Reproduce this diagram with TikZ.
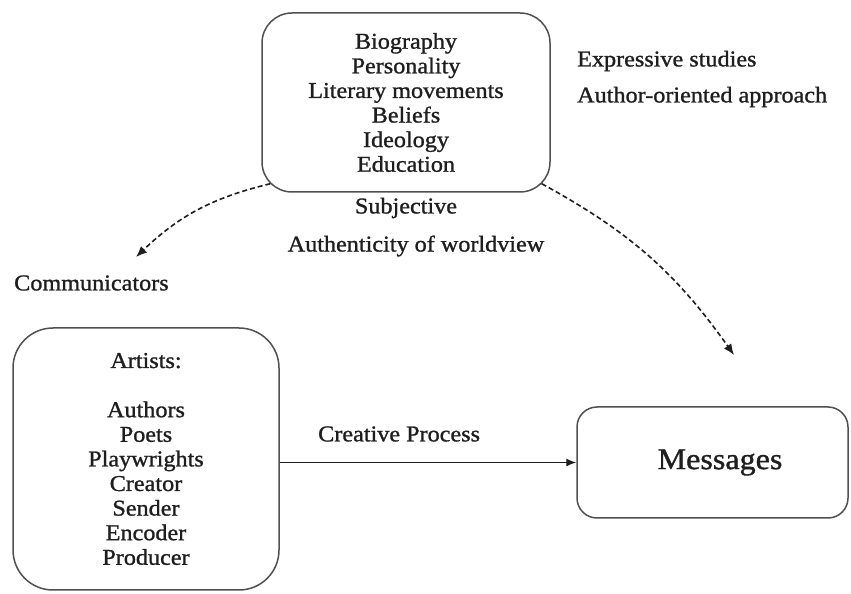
\documentclass[tikz,border=0pt]{standalone}
\usepackage{fontspec}
\setmainfont{Liberation Serif}[FakeStretch=1.07,FakeBold=1.1]
\usetikzlibrary{arrows.meta,calc}
\definecolor{boxline}{HTML}{505050}
\definecolor{inkc}{HTML}{1E1E1E}
\begin{document}
\begin{tikzpicture}[x=1pt,y=1pt,
  txt/.style={text=inkc,font=\fontsize{22.6}{24.5}\selectfont,inner sep=0pt},
  rbox/.style={draw=boxline,line width=1.5pt,align=center,inner sep=0pt,text=inkc,font=\fontsize{22.6}{24.6}\selectfont},
  dasharrow/.style={draw=inkc,line width=1.6pt,dash pattern=on 5pt off 3pt,-{Latex[length=11pt,width=9pt]}},
  solidarrow/.style={draw=inkc,line width=1.3pt,-{Latex[length=10pt,width=8pt]}}]
\useasboundingbox (0,0) rectangle (851,594);
\fill[white] (0,0) rectangle (851,594);

\node[rbox,minimum width=288,minimum height=179,rounded corners=30] (top) at (406,491.5)
  {Biography\\Personality\\Literary movements\\Beliefs\\Ideology\\Education};
\node[rbox,minimum width=266,minimum height=262,rounded corners=40] (art) at (146,135)
  {Artists:\\[24.6pt]Authors\\Poets\\Playwrights\\Creator\\Sender\\Encoder\\Producer};
\node[rbox,minimum width=271,minimum height=111,rounded corners=20,
  font=\fontsize{30}{34}\selectfont] (msg) at (712.5,131.5) {\hspace*{15pt}Messages};

\node[txt] (subj) at (406,386) {Subjective};
\node[txt] (auth) at (416,348) {Authenticity of worldview};
\node[txt,anchor=west] (expr) at (577,533) {Expressive studies};
\node[txt,anchor=west] (aoa) at (577,497) {Author-oriented approach};
\node[txt,anchor=west] (comm) at (14,311) {Communicators};
\node[txt,anchor=west] (cp) at (318,160) {Creative Process};

\coordinate (sL) at ($(top.south west)+(9,9)$);
\coordinate (sR) at ($(top.south east)+(-9,9)$);
\coordinate (commTip) at (136,337);
\coordinate (msgTip) at (734,239);

\draw[dasharrow] (sL) to[bend right=15] (commTip);
\draw[dasharrow] (sR) to[bend left=13] (msgTip);
\draw[solidarrow] (art.east |- msg.west) -- (msg.west);
\end{tikzpicture}
\end{document}
